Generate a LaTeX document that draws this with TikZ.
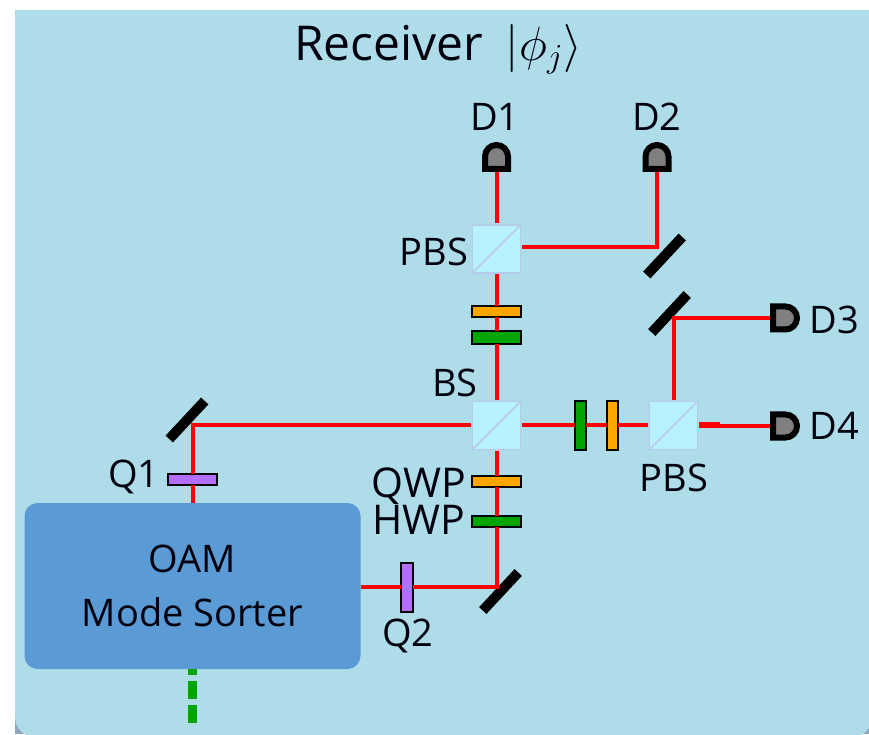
\documentclass[tikz,border=0pt]{standalone}
\usepackage{fix-cm}
\usepackage{fontspec}
\setmainfont{Open Sans}
\definecolor{panelblue}{HTML}{AFDCE9}
\definecolor{panelback}{HTML}{8FA5BF}
\definecolor{sorterblue}{HTML}{5B9BD5}
\definecolor{cubefill}{HTML}{B8F1FF}
\definecolor{cubeedge}{HTML}{B4CCE8}
\definecolor{platepurple}{HTML}{B46EFF}
\definecolor{plateorange}{HTML}{FFA500}
\definecolor{plategreen}{HTML}{00A500}
\tikzset{
	beam/.style={red,line width=4pt,line join=miter},
	cube/.style={draw=cubeedge,fill=cubefill,line width=1.5pt,minimum size=48pt,inner sep=0pt,outer sep=1.5pt},
	plate/.style={draw=black,line width=2pt,minimum width=49pt,minimum height=11.5pt,inner sep=0pt,outer sep=0pt},
	mirror/.style={fill=black,rotate=47,minimum width=52pt,minimum height=10pt,inner sep=0pt},
	lab/.style={font=\fontsize{38}{40}\selectfont,text=black!95!blue,inner sep=0pt},
	pics/detector/.style={code={
		\draw[line width=6pt,line join=miter,fill=black!50] (-11.5,3) -- (-11.5,15.5) arc[start angle=180,end angle=0,radius=11.5] -- (11.5,3) -- cycle;
	}},
}
\begin{document}
\begin{tikzpicture}[x=1pt,y=1pt]
		\clip (0,0) rectangle (869,734);
		% Panel
		\fill[panelback] (15,0) rectangle (869,30);
		\fill[panelblue] (15,724) -- (872,724) [rounded corners=20pt] -- (872,-3) -- (15,-3) [sharp corners] -- cycle;
		\node[font=\fontsize{48}{50}\selectfont,text=black!95!blue,inner sep=0pt] (title) at (438,685) {Receiver\hspace{10pt} $|\phi_j\rangle$};

		% Optical elements
		\node[cube] (pbsA) at (496.5,485) {};
		\node[cube] (bs) at (496.5,308.5) {};
		\node[cube] (pbsB) at (673.5,308.5) {};
		\foreach \c in {pbsA,bs,pbsB}
			\draw[cubeedge,line width=1.5pt] (\c.south west) -- (\c.north east);

		\node[plate,fill=plateorange] (qwpA) at (496.5,422.5) {};
		\node[plate,fill=plategreen,minimum height=13pt] (hwpA) at (496.5,396) {};
		\node[plate,fill=plateorange] (qwpB) at (496.5,252.5) {};
		\node[plate,fill=plategreen] (hwpB) at (496.5,212.5) {};
		\node[plate,fill=plategreen,rotate=90] (hwpC) at (580.5,308.5) {};
		\node[plate,fill=plateorange,rotate=90] (qwpC) at (612.5,308.5) {};
		\node[plate,fill=platepurple] (qA) at (192.5,254.5) {};
		\node[plate,fill=platepurple,rotate=90] (qB) at (407,147) {};

		\node[mirror] (mirA) at (664.5,478) {};
		\node[mirror] (mirB) at (669.5,420.5) {};
		\node[mirror] (mirC) at (187,314) {};
		\node[mirror] (mirD) at (500.5,142.5) {};

		\node[fill=sorterblue,rounded corners=13pt,minimum width=336pt,minimum height=166pt,align=center,inner sep=0pt,font=\fontsize{38}{54}\selectfont,text=black!95!blue] (sorter) at (192.5,148) {OAM\\Mode Sorter};

		% Beam corners and detectors
		\coordinate (turnA) at (657,487);
		\coordinate (turnB) at (673.5,416);
		\coordinate (turnC) at (192.5,308.5);
		\coordinate (turnD) at (496.5,147);
		\coordinate (detA) at (496.5,562);
		\coordinate (detB) at (657,562);
		\coordinate (detC) at (770,416);
		\coordinate (detD) at (770,308);
		\coordinate (stub) at (720,309);
		\coordinate (fibre) at (192.5,11);

		% Beams
		\draw[beam] (pbsA) -- (detA);
		\draw[beam] (pbsA.east |- turnA) -- (turnA) -- (detB);
		\draw[beam] (bs) -- (hwpA) -- (qwpA) -- (pbsA);
		\draw[beam] (pbsB) -- (turnB) -- (detC);
		\draw[beam] (bs) -- (hwpC) -- (qwpC) -- (pbsB);
		\draw[beam] (pbsB.east |- detD) -- (detD);
		\draw[red,line width=5.5pt] (pbsB.east |- stub) -- (stub);
		\draw[beam] (bs) -- (turnC) -- (qA) -- (sorter);
		\draw[beam] (bs) -- (qwpB) -- (hwpB) -- (turnD) -- (qB) -- (sorter.east |- qB);
		\draw[plategreen,line width=9pt,dash pattern=on 18pt off 6pt] (fibre) -- (sorter.south);

		\pic at (detA) {detector};
		\pic at (detB) {detector};
		\pic[rotate=-90] at (detC) {detector};
		\pic[rotate=-90] at (detD) {detector};

		% Labels
		\node[lab] (labA) at (495,617) {D1};
		\node[lab] (labB) at (657,617) {D2};
		\node[lab] (labC) at (834,414) {D3};
		\node[lab] (labD) at (834,308) {D4};
		\node[lab] (labE) at (434,482) {PBS};
		\node[lab] (labF) at (455,351) {BS};
		\node[lab] (labG) at (674,256) {PBS};
		\node[lab] (labH) at (134,257) {Q1};
		\node[lab,font=\fontsize{41}{40}\selectfont] (labI) at (419,248) {QWP};
		\node[lab,font=\fontsize{41}{40}\selectfont] (labJ) at (419,214) {HWP};
		\node[lab] (labK) at (408,98) {Q2};
	\end{tikzpicture}
\end{document}
